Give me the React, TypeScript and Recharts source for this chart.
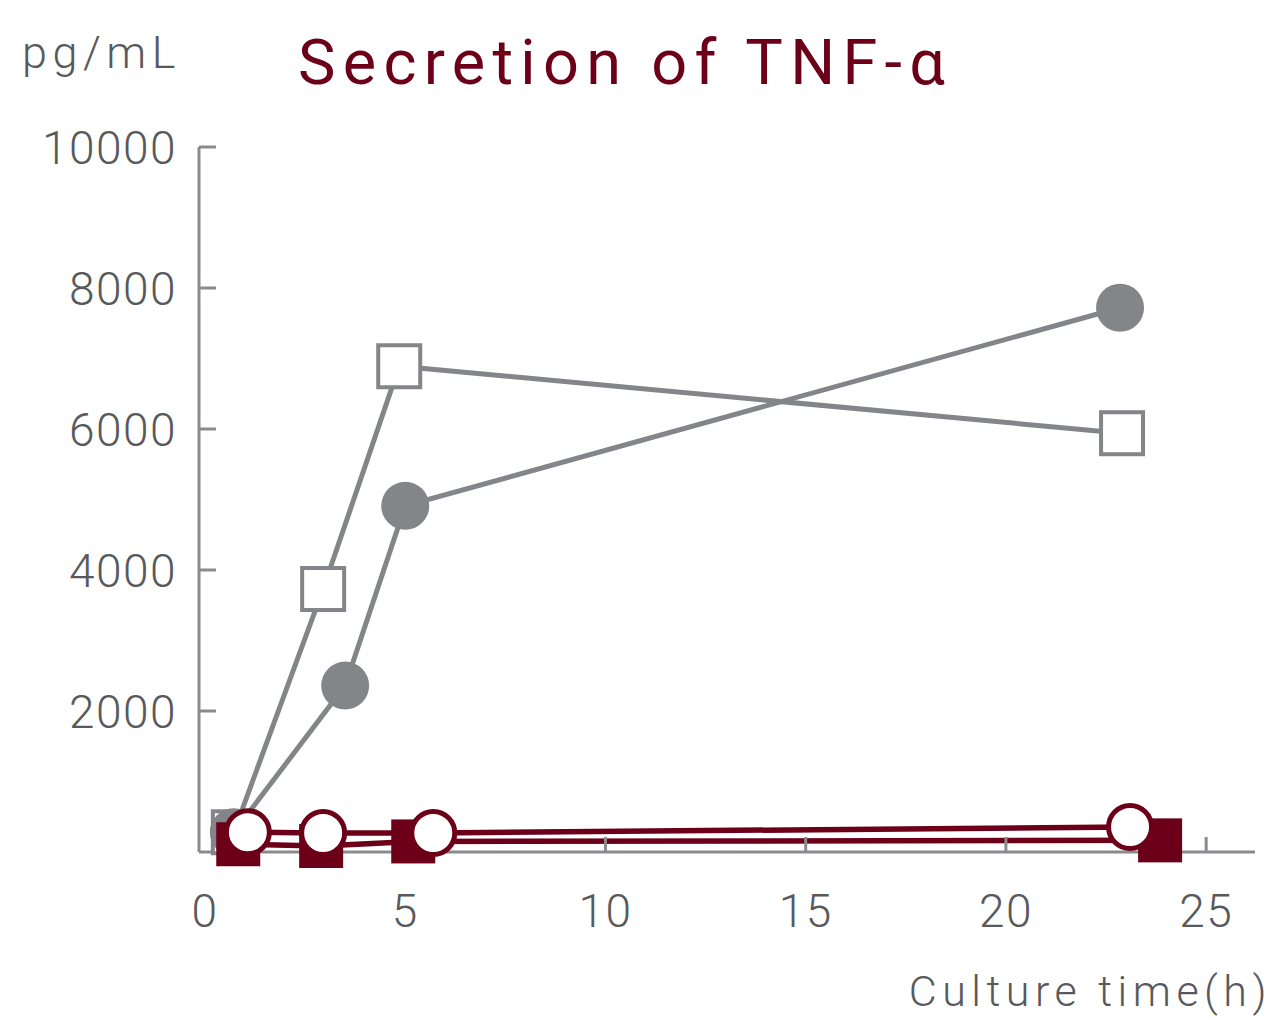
import React from 'react';
import { LineChart, Line, XAxis, YAxis } from 'recharts';

// culture time (h) and TNF-α (pg/mL)
const xTicks = [0, 5, 10, 15, 20, 25];
const yTicks = [2000, 4000, 6000, 8000, 10000];

const graySquareTime = [0.72, 2.95, 4.85, 22.9];
const graySquareTnf = [280, 3730, 6890, 5940];

const grayCircleTime = [0.72, 3.5, 5.0, 22.85];
const grayCircleTnf = [280, 2360, 4910, 7720];

const redSquareTime = [0.83, 2.9, 5.2, 23.85];
const redSquareTnf = [110, 85, 150, 165];

const redCircleTime = [1.07, 2.95, 5.7, 23.1];
const redCircleTnf = [280, 270, 270, 355];

const GRAY = '#848588';
const AXIS = '#8a8b8e';
const RED = '#6c0019';
const TEXT = '#58595b';
const FONT = 'Roboto, sans-serif';

const toPoints = (xs: number[], ys: number[]) => xs.map((x, i) => ({ x, y: ys[i] }));

const graySquares = toPoints(graySquareTime, graySquareTnf);
const grayCircles = toPoints(grayCircleTime, grayCircleTnf);
const redSquares = toPoints(redSquareTime, redSquareTnf);
const redCircles = toPoints(redCircleTime, redCircleTnf);

const OpenSquare = (p: any) => (
  <rect key={p.index} x={p.cx - 21} y={p.cy - 21} width={42} height={42} fill="#fff" stroke={GRAY} strokeWidth={4} />
);
const GrayDot = (p: any) => <circle key={p.index} cx={p.cx} cy={p.cy} r={24} fill={GRAY} />;
const RedSquare = (p: any) => (
  <rect key={p.index} x={p.cx - 22} y={p.cy - 22} width={44} height={44} fill={RED} />
);
const RedRing = (p: any) => (
  <circle key={p.index} cx={p.cx} cy={p.cy} r={21.5} fill="#fff" stroke={RED} strokeWidth={5} />
);

const YTick = ({ x, y, payload }: any) => (
  <g>
    <line x1={x} x2={x + 17} y1={y} y2={y} stroke={AXIS} strokeWidth={3} />
    <text x={x - 22} y={y} dy="0.36em" textAnchor="end" fill={TEXT} fontFamily={FONT} fontWeight={300} fontSize={46} letterSpacing={1.5}>
      {payload.value}
    </text>
  </g>
);

const XTick = ({ x, y, payload }: any) => (
  <g>
    {payload.value >= 10 && <line x1={x} x2={x} y1={y} y2={y - 15} stroke={AXIS} strokeWidth={3} />}
    <text x={x} y={y + 75} textAnchor="middle" fill={TEXT} fontFamily={FONT} fontWeight={300} fontSize={46} letterSpacing={1.5}>
      {payload.value}
    </text>
  </g>
);

export default function App() {
  return (
    <div style={{ position: 'relative', width: 1276, height: 1019, background: '#fff' }}>
      <style>{'body{margin:0}'}</style>
      <LineChart width={1276} height={1019} margin={{ top: 147, right: 21, bottom: 0, left: 0 }}>
        <XAxis
          dataKey="x"
          type="number"
          domain={[-0.15, 26.22]}
          ticks={xTicks}
          height={167}
          axisLine={{ stroke: AXIS, strokeWidth: 3 }}
          tickLine={false}
          tickSize={0}
          tickMargin={0}
          tick={<XTick />}
        />
        <YAxis
          dataKey="y"
          type="number"
          domain={[0, 10000]}
          ticks={yTicks}
          width={199}
          axisLine={{ stroke: AXIS, strokeWidth: 3 }}
          tickLine={false}
          tickSize={0}
          tickMargin={0}
          tick={<YTick />}
        />
        <Line data={graySquares} dataKey="y" type="linear" stroke={GRAY} strokeWidth={5} dot={OpenSquare} activeDot={false} isAnimationActive={false} />
        <Line data={grayCircles} dataKey="y" type="linear" stroke={GRAY} strokeWidth={5} dot={GrayDot} activeDot={false} isAnimationActive={false} />
        <Line data={redSquares} dataKey="y" type="linear" stroke={RED} strokeWidth={5.5} dot={RedSquare} activeDot={false} isAnimationActive={false} />
        <Line data={redCircles} dataKey="y" type="linear" stroke={RED} strokeWidth={5.5} dot={RedRing} activeDot={false} isAnimationActive={false} />
      </LineChart>
      <svg width={1276} height={1019} style={{ position: 'absolute', left: 0, top: 0, pointerEvents: 'none' }}>
        <text x={22} y={68} fill={TEXT} fontFamily={FONT} fontWeight={300} fontSize={45} letterSpacing={5.5}>pg/mL</text>
        <text x={298} y={84} fill={RED} fontFamily={FONT} fontSize={63} letterSpacing={7.3}>Secretion of TNF-α</text>
        <text x={1272} y={1006} textAnchor="end" fill={TEXT} fontFamily={FONT} fontWeight={300} fontSize={43} letterSpacing={5.5}>Culture time(h)</text>
      </svg>
    </div>
  );
}
